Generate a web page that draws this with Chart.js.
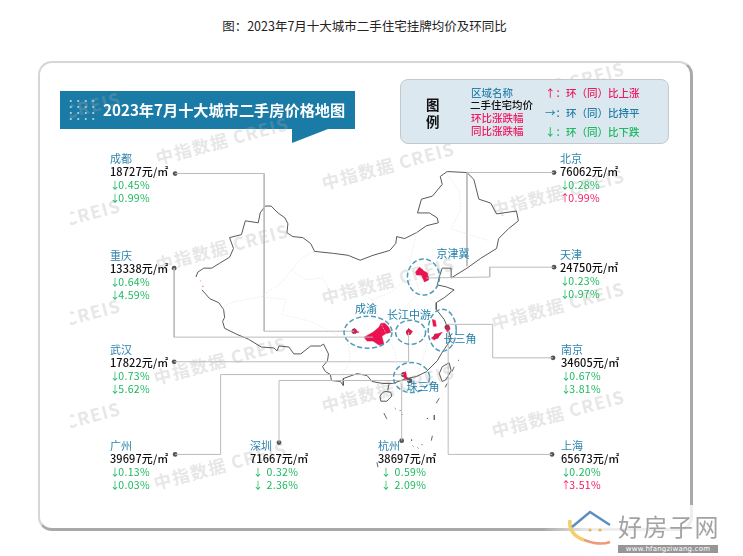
<!DOCTYPE html>
<html lang="zh">
<head>
<meta charset="utf-8">
<title>2023年7月十大城市二手房价格地图</title>
<script src="https://cdn.jsdelivr.net/npm/chart.js@4/dist/chart.umd.min.js"></script>
<style>
  html, body { margin: 0; padding: 0; background: #fff; }
  body { width: 743px; height: 556px; position: relative; overflow: hidden; font-family: "Noto Sans CJK SC", "Noto Sans", sans-serif; }
  .abs { position: absolute; white-space: nowrap; line-height: 1; }
  #heading { left: 0; width: 729px; top: 20px; text-align: center; font-size: 12.5px; color: #222; }
  #card { position: absolute; left: 38px; top: 61px; width: 650px; height: 465px; border: 2px solid #d6d6d6; border-right: 3px solid #a9a9a9; border-bottom: 3px solid #a9a9a9; border-radius: 14px; background: #fff; }
  #marks { position: absolute; left: 70px; top: 63px; width: 618px; height: 463px; overflow: hidden; }
  .mark { position: absolute; white-space: nowrap; font-size: 17.5px; font-weight: 700; color: rgba(170,170,170,.3); transform: translate(-50%,-50%) rotate(-15deg); letter-spacing: 1.2px; }
  #banner { position: absolute; left: 60px; top: 91px; width: 295px; height: 38px; background: #1a7ba6; }
  #tail { position: absolute; left: 292px; top: 129px; width: 0; height: 0; border-top: 14px solid #1a7ba6; border-right: 36px solid transparent; }
  #dots { position: absolute; left: 7px; top: 7px; width: 30px; height: 24px; background-image: radial-gradient(circle, rgba(255,255,255,.6) .9px, transparent 1.2px); background-size: 7.5px 6px; }
  #legendBox { position: absolute; left: 400px; top: 79px; width: 267px; height: 63px; background: #dbe8ef; border: 1.5px solid #c3c9cc; border-radius: 8px; }
  canvas { position: absolute; left: 0; top: 0; }
  #chartWrap { position: absolute; left: 0; top: 0; width: 743px; height: 556px; }
  #fade { position: absolute; left: 545px; top: 505px; width: 198px; height: 51px; background: linear-gradient(100deg, rgba(255,255,255,0), rgba(255,255,255,.8) 25%); }
  .arrow { font-size: 10px; margin-right: -2px; }
</style>
</head>
<body>
<div id="heading" class="abs">图：2023年7月十大城市二手住宅挂牌均价及环同比</div>
<div id="card"></div>
<div id="banner"><div id="dots"></div></div>
<div id="tail"></div>
<div id="marks"></div>
<div id="legendBox"></div>
<div id="chartWrap"><canvas id="priceMap" width="743" height="556"></canvas></div>
<div id="labels"></div>
<div id="fade"></div>
<div id="logo">
  <svg class="abs" style="left:566px;top:510px" width="50" height="42" viewBox="0 0 50 42">
    <path d="M4 10 Q2 24 18 30" fill="none" stroke="#f2cf6a" stroke-width="3.5"/>
    <path d="M18 30 Q34 36 44 32" fill="none" stroke="#ee9a7c" stroke-width="2.5"/>
    <path d="M6 17 L24 2 L44 15" fill="none" stroke="#5d8fbe" stroke-width="2.5"/>
    <circle cx="24" cy="20" r="1.6" fill="#e4b94f"/><circle cx="34" cy="20" r="1.6" fill="#e4b94f"/>
  </svg>
  <div class="abs" style="left:618px;top:514px;font-size:24px;letter-spacing:1.5px;color:#a3a3a3;font-family:'Noto Sans CJK SC'">好房子网</div>
  <div class="abs" style="left:618px;top:545px;width:100px;height:8px;background:#969696;color:#fff;font:7px/8px 'DejaVu Sans';letter-spacing:.2px;text-align:center">www.hfangziwang.com</div>
</div>

<script>
// Data
const cities = ["成都", "重庆", "武汉", "广州", "深圳", "杭州", "北京", "天津", "南京", "上海"];
const prices = [18727, 13338, 17822, 39697, 71667, 38697, 76062, 24750, 34605, 65673];
const momChange = [-0.45, -0.64, -0.73, -0.13, -0.32, -0.59, -0.28, -0.23, -0.67, -0.2];
const yoyChange = [-0.99, -4.59, -5.62, -0.03, -2.36, -2.09, 0.99, -0.97, -3.81, 3.51];
const regions = ["京津冀", "成渝", "长江中游", "长三角", "珠三角"];

// Map geometry, in map units
const northBorder = [[194,277],[196,272],[202,268],[210,268],[218,263],[228,257],[232,248],[228,237],[240,234],[244,220],[257,222],[259,212],[264,205],[270,205],[277,212],[284,217],[287,223],[286,232],[292,236],[302,237],[310,243],[314,251],[333,253],[348,255],[360,260],[373,255],[390,250],[396,243],[397,236],[405,238],[417,232],[427,225],[439,222],[438,217],[430,212],[418,212],[422,198],[433,195],[443,183],[441,175],[448,170],[468,171],[475,178],[480,198],[492,202],[498,213],[518,210],[520,220],[510,228],[500,238],[498,248],[482,258],[468,268],[452,278]];
const bohaiCoast = [[452,278],[452,268],[443,268],[440,277],[438,285],[447,287],[455,290],[445,298],[437,303],[437,310],[445,320],[449,330],[452,340],[442,355],[438,362],[427,373],[417,378],[407,380],[393,385],[383,385],[372,383],[367,377],[357,375],[343,380],[343,387],[340,383],[331,382],[330,376],[325,373],[322,368],[327,362],[328,355],[323,345],[320,347],[310,347],[300,355],[293,355],[288,348],[278,347],[276,352],[273,349],[260,348],[247,340],[235,335],[223,329],[221,322],[223,318],[222,310],[217,303],[208,299],[200,290]];
const leizhou = [[389,386],[388,392]];
const hainan = [[386,393],[391,394],[392,398],[387,403],[381,403],[380,398],[383,394],[386,393]];
const taiwan = [[450,364],[452,372],[447,381],[443,383],[440,375],[443,368],[450,364]];
const islandDashes = [
  [[384,415],[387,421]], [[435,417],[435,422]], [[440,400],[437,405]], [[433,438],[432,443]],
  [[377,465],[378,470]], [[455,368],[453,373]], [[460,361],[459,362]], [[448,385],[446,389]],
  [[395,410],[396,411]], [[400,412],[401,413]], [[402,416],[402,417]], [[428,420],[428,421]],
  [[412,442],[412,443]], [[413,448],[414,449]], [[418,450],[419,451]], [[422,447],[423,447]]
];
const redSpecks = [[[198,281],[199,281]], [[201,286],[201,287]]];
const provinceLines = [
  [[222,307],[233,302],[260,297],[280,283],[291,270],[300,258],[314,251]],
  [[260,297],[285,300],[281,315],[310,322],[335,335],[348,342],[362,352]],
  [[291,270],[305,280],[322,278],[330,292],[352,288],[372,300],[392,292],[405,280]],
  [[372,300],[380,322],[395,352],[398,372]],
  [[448,172],[460,190],[462,208],[452,228],[470,234],[490,240]],
  [[417,232],[410,262],[420,292],[437,303]],
  [[348,342],[350,362],[340,380]],
  [[420,292],[402,312],[428,345],[418,377]]
];
const hotAreas = [
  [[352,333],[354,329],[357,332],[359,333],[353,334],[352,333]],
  [[364,338],[373,333],[379,328],[381,324],[385,324],[389,328],[391,333],[385,335],[382,337],[384,345],[379,346],[373,342],[367,342],[364,338]],
  [[407,333],[409,329],[411,331],[413,332],[411,335],[408,336],[407,333]],
  [[433,320],[436,321],[437,327],[434,327],[433,320]],
  [[432,339],[437,335],[443,333],[440,337],[435,341],[432,339]],
  [[446,327],[449,325],[451,330],[448,333],[446,327]],
  [[416,272],[420,267],[423,270],[428,273],[429,280],[425,282],[422,275],[417,275],[416,272]],
  [[403,375],[406,373],[407,378],[410,382],[405,380],[403,375]]
];
const cityLeaders = [
  [[173,172],[263,172],[263,332],[354,332]],
  [[172,268],[172,338],[373,338]],
  [[172,363],[409,363],[409,333]],
  [[173,457],[219,457],[219,376],[404,376]],
  [[278,445],[278,382],[410,382]],
  [[402,443],[402,385]],
  [[556,171],[468,171],[468,266]],
  [[556,267],[491,267],[491,277],[427,278]],
  [[555,359],[494,359],[494,325],[448,325]],
  [[554,457],[449,457],[449,331]]
];
const mapDots = [[354,332],[373,338],[409,333],[404,376],[410,382],[421,271],[427,278],[448,328],[437,337]];

// Layout of the text and the rings
const blockSpots = [[110,153,0],[110,250,0],[110,344,0],[110,440,0],[250,440,3],[378,440,3],[560,153,0],[560,249,0],[561,344,0],[561,440,0]];
const regionRings = [[424,277,16,18],[368,333,24,16],[411,333,15,12],[443,331,14,21],[412,379,18,15]];
const regionSpots = [[453,253],[366,308],[409,314],[460,338],[423,386]];
const markSpots = [[222,140],[388,165],[558,85],[558,192],[54,115],[54,222],[222,247],[388,280],[558,305],[54,322],[220,360],[388,388],[558,413],[54,425],[220,465]];

const GREEN = "#1cb85f", PINK = "#f0185f", BLUE = "#2d84ad", RING = "#4f9cba";

function addText(parent, text, x, y, css) {
  const el = document.createElement("div");
  el.className = "abs";
  el.textContent = text;
  el.style.cssText = "left:" + x + "px;top:" + y + "px;" + css;
  parent.appendChild(el);
  return el;
}

// Arrow and number are separate so the arrow can stay narrow like the original
function addChange(parent, value, x, y, indent) {
  const el = addText(parent, "", x, y, "font-size:10.5px;letter-spacing:.3px;color:" + (value > 0 ? PINK : GREEN));
  const arrow = document.createElement("span");
  arrow.className = "arrow";
  arrow.textContent = value > 0 ? "↑" : value < 0 ? "↓" : "→";
  el.appendChild(arrow);
  el.appendChild(document.createTextNode((indent ? "\u00a0\u00a0" : "") + Math.abs(value).toFixed(2) + "%"));
}

const labels = document.getElementById("labels");
addText(labels, "2023年7月十大城市二手房价格地图", 103, 102, "font-size:15.2px;font-weight:700;color:#fff");

// Legend
addText(labels, "图", 426, 98, "font-size:13.5px;font-weight:700;color:#111");
addText(labels, "例", 426, 115, "font-size:13.5px;font-weight:700;color:#111");
addText(labels, "区域名称", 471, 88, "font-size:10.5px;font-weight:500;color:" + BLUE);
addText(labels, "二手住宅均价", 470, 100, "font-size:10.5px;font-weight:500;color:#111");
addText(labels, "环比涨跌幅", 471, 113, "font-size:10.5px;font-weight:500;color:" + PINK);
addText(labels, "同比涨跌幅", 471, 126, "font-size:10.5px;font-weight:500;color:" + PINK);
addText(labels, "↑：环（同）比上涨", 545, 88, "font-size:10.5px;font-weight:500;color:" + PINK);
addText(labels, "→：环（同）比持平", 545, 108, "font-size:10.5px;font-weight:500;color:#1f7ea8");
addText(labels, "↓：环（同）比下跌", 545, 127, "font-size:10.5px;font-weight:500;color:" + GREEN);

// One text block per city
cities.forEach(function (city, i) {
  const x = blockSpots[i][0], y = blockSpots[i][1], indent = blockSpots[i][2];
  addText(labels, city, x, y, "font-size:11px;color:" + BLUE);
  addText(labels, prices[i] + "元/㎡", x, y + 13, "font-size:11px;font-weight:500;letter-spacing:.1px;color:#111");
  addChange(labels, momChange[i], x + indent, y + 27, indent);
  addChange(labels, yoyChange[i], x + indent, y + 40, indent);
});

regions.forEach(function (name, i) {
  addText(labels, name, regionSpots[i][0], regionSpots[i][1], "font-size:11px;color:#1f7ea8;transform:translate(-50%,-50%)");
});

// Watermarks
const marks = document.getElementById("marks");
markSpots.forEach(function (spot) {
  const el = document.createElement("div");
  el.className = "mark";
  el.textContent = "中指数据 CREIS";
  el.style.left = (spot[0] - 70) + "px";
  el.style.top = (spot[1] - 63) + "px";
  marks.appendChild(el);
});

function lineSet(data, color, width, extra) {
  return Object.assign({ data: data, borderColor: color, borderWidth: width, pointRadius: 0, fill: false, tension: 0 }, extra || {});
}

const datasets = [];
provinceLines.forEach(function (l) { datasets.push(lineSet(l, "#e2e2e2", 0.7, { borderDash: [1.5, 1.5] })); });
cityLeaders.forEach(function (l) { datasets.push(lineSet(l, "#bbbbbb", 1)); });
[northBorder, bohaiCoast, leizhou, hainan, taiwan].forEach(function (l) { datasets.push(lineSet(l, "#595959", 1)); });
islandDashes.forEach(function (l) { datasets.push(lineSet(l, "#666", 1)); });
redSpecks.forEach(function (l) { datasets.push(lineSet(l, "#f08aa5", 1)); });
hotAreas.forEach(function (a) { datasets.push(lineSet(a, "#ea1250", 0.5, { fill: "shape", backgroundColor: "#ea1250" })); });
datasets.push(lineSet(mapDots, "#555", 0, { showLine: false, pointRadius: 2.6, pointBackgroundColor: "#555", pointBorderWidth: 0 }));
datasets.push(lineSet(cityLeaders.map(function (l) { return l[0]; }), "#555", 0, { showLine: false, pointRadius: 2.4, pointBackgroundColor: "#555", pointBorderWidth: 0 }));

// Dashed rings around the five city clusters
const ringsPlugin = {
  id: "rings",
  afterDatasetsDraw(chart) {
    const ctx = chart.ctx, sx = chart.scales.x, sy = chart.scales.y;
    ctx.save();
    ctx.strokeStyle = RING;
    ctx.lineWidth = 1.5;
    ctx.setLineDash([5, 2.5]);
    regionRings.forEach(function (r) {
      ctx.beginPath();
      ctx.ellipse(sx.getPixelForValue(r[0]), sy.getPixelForValue(r[1]), r[2], r[3], 0, 0, Math.PI * 2);
      ctx.stroke();
    });
    ctx.restore();
  }
};

new Chart(document.getElementById("priceMap"), {
  type: "line",
  data: { datasets: datasets },
  plugins: [ringsPlugin],
  options: {
    responsive: false,
    animation: false,
    events: [],
    layout: { padding: 0 },
    plugins: { legend: { display: false }, tooltip: { enabled: false } },
    scales: {
      x: { type: "linear", min: 0, max: 743, display: false },
      y: { type: "linear", min: 0, max: 556, reverse: true, display: false }
    }
  }
});
</script>
</body>
</html>
